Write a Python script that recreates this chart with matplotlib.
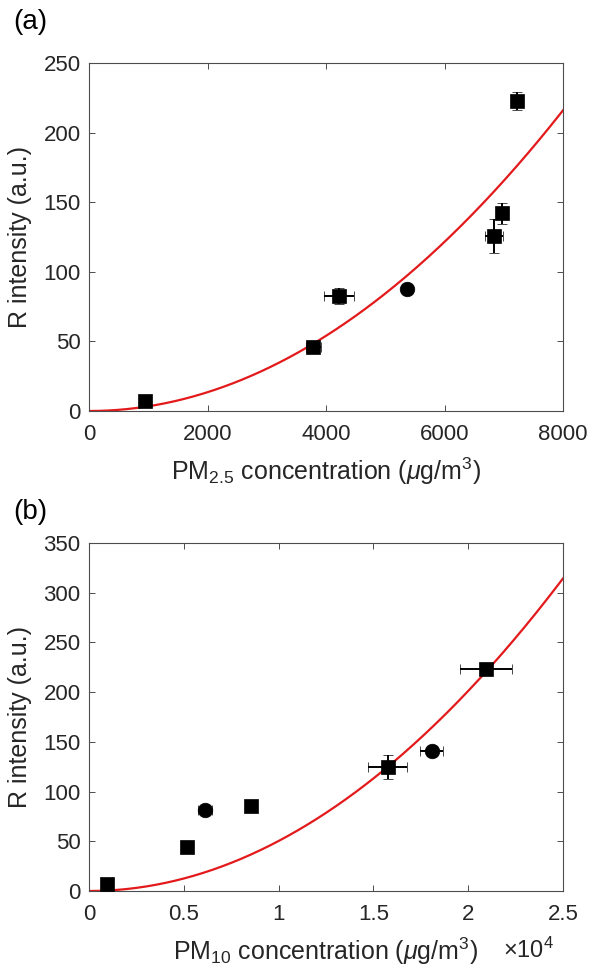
import numpy as np
import matplotlib
matplotlib.use("Agg")
import matplotlib.pyplot as plt

plt.rcParams['font.family'] = ['Liberation Sans', 'DejaVu Sans']
plt.rcParams['mathtext.fontset'] = 'custom'
plt.rcParams['mathtext.rm'] = 'Liberation Sans'
plt.rcParams['mathtext.it'] = 'Liberation Sans:italic'
plt.rcParams['mathtext.bf'] = 'Liberation Sans:bold'

# ---------------- data (a) ----------------
pm25_x = [945, 3786, 4219, 5362, 6835, 6965, 7218]
pm25_y = [7.4, 45.8, 82.6, 87.4, 125.7, 142.0, 222.9]
pm25_xerr = [0, 130, 250, 60, 150, 40, 40]
pm25_yerr = [0, 1.5, 6.0, 1.5, 12.0, 7.4, 6.5]
pm25_markers = ['s', 's', 's', 'o', 's', 's', 's']
fit_a_coef = 3.375e-6   # R = a * x^2

# ---------------- data (b) ----------------
pm10_x = [966, 5185, 6135, 8561, 15753, 18073, 20939]
pm10_y = [7.0, 44.6, 81.5, 85.8, 125.0, 141.0, 223.0]
pm10_xerr = [0, 150, 370, 0, 1030, 615, 1380]
pm10_yerr = [0, 1.5, 2.0, 0, 12.0, 5.0, 2.0]
pm10_markers = ['s', 's', 'o', 's', 's', 'o', 's']
fit_b_coef = 5.03e-7

xticks_a = [0, 2000, 4000, 6000, 8000]
yticks_a = [0, 50, 100, 150, 200, 250]
xticks_b = [0, 5000, 10000, 15000, 20000, 25000]
xticklabels_b = ['0', '0.5', '1', '1.5', '2', '2.5']
yticks_b = [0, 50, 100, 150, 200, 250, 300, 350]

TXT = '#262626'
W, H = 594, 980
fig = plt.figure(figsize=(W / 100, H / 100), dpi=100)


def ax_rect(l, r, t, b):
    return [l / W, (H - b) / H, (r - l) / W, (b - t) / H]


def style(ax):
    for s in ax.spines.values():
        s.set_color('#4d4d4d')
        s.set_linewidth(0.8)
    ax.tick_params(direction='in', length=4, width=0.7, top=True, right=True,
                   colors='#4d4d4d', labelcolor=TXT, labelsize=16)
    ax.tick_params(axis='x', pad=9)
    ax.tick_params(axis='y', pad=6)


def draw(ax, xs, ys, xe, ye, mk):
    for x, y, dx, dy, m in zip(xs, ys, xe, ye, mk):
        ax.errorbar([x], [y], xerr=[dx] if dx else None, yerr=[dy] if dy else None,
                    fmt=m, color='black', mfc='black', mec='black',
                    ms=9.5 if m == 's' else 10.5, mew=0.5,
                    elinewidth=1.4, ecolor='black', capsize=3.5, capthick=1.4, zorder=3)


def xlabel(ax, sub):
    ax.set_xlabel(r'PM$_{\mathregular{' + sub + r'}}$ concentration ($\mu$g/m$^\mathregular{3}$)',
                  fontsize=18, color=TXT, labelpad=8)


# ---- panel (a)
ax1 = fig.add_axes(ax_rect(89, 563, 63, 411))
xa = np.linspace(0, 8000, 300)
ax1.plot(xa, fit_a_coef * xa ** 2, color='#e31a1c', lw=1.6, zorder=2)
draw(ax1, pm25_x, pm25_y, pm25_xerr, pm25_yerr, pm25_markers)
ax1.set_xlim(0, 8000)
ax1.set_ylim(0, 250)
ax1.set_xticks(xticks_a)
ax1.set_yticks(yticks_a)
style(ax1)
xlabel(ax1, '2.5')
ax1.set_ylabel('R intensity (a.u.)', fontsize=18, color=TXT, labelpad=8)

# ---- panel (b)
ax2 = fig.add_axes(ax_rect(89, 563, 543, 891))
xb = np.linspace(0, 25000, 300)
ax2.plot(xb, fit_b_coef * xb ** 2, color='#e31a1c', lw=1.6, zorder=2)
draw(ax2, pm10_x, pm10_y, pm10_xerr, pm10_yerr, pm10_markers)
ax2.set_xlim(0, 25000)
ax2.set_ylim(0, 350)
ax2.set_xticks(xticks_b)
ax2.set_xticklabels(xticklabels_b)
ax2.set_yticks(yticks_b)
style(ax2)
xlabel(ax2, '10')
ax2.set_ylabel('R intensity (a.u.)', fontsize=18, color=TXT, labelpad=8)

fig.text(503 / W, (H - 958) / H, r'$\times$10$^\mathregular{4}$', fontsize=17, color=TXT,
         ha='left', va='baseline')

fig.text(13 / W, (H - 22) / H, '(a)', fontsize=20, color='black', ha='left', va='center')
fig.text(13 / W, (H - 512) / H, '(b)', fontsize=20, color='black', ha='left', va='center')

fig.savefig('out.png', dpi=100)
